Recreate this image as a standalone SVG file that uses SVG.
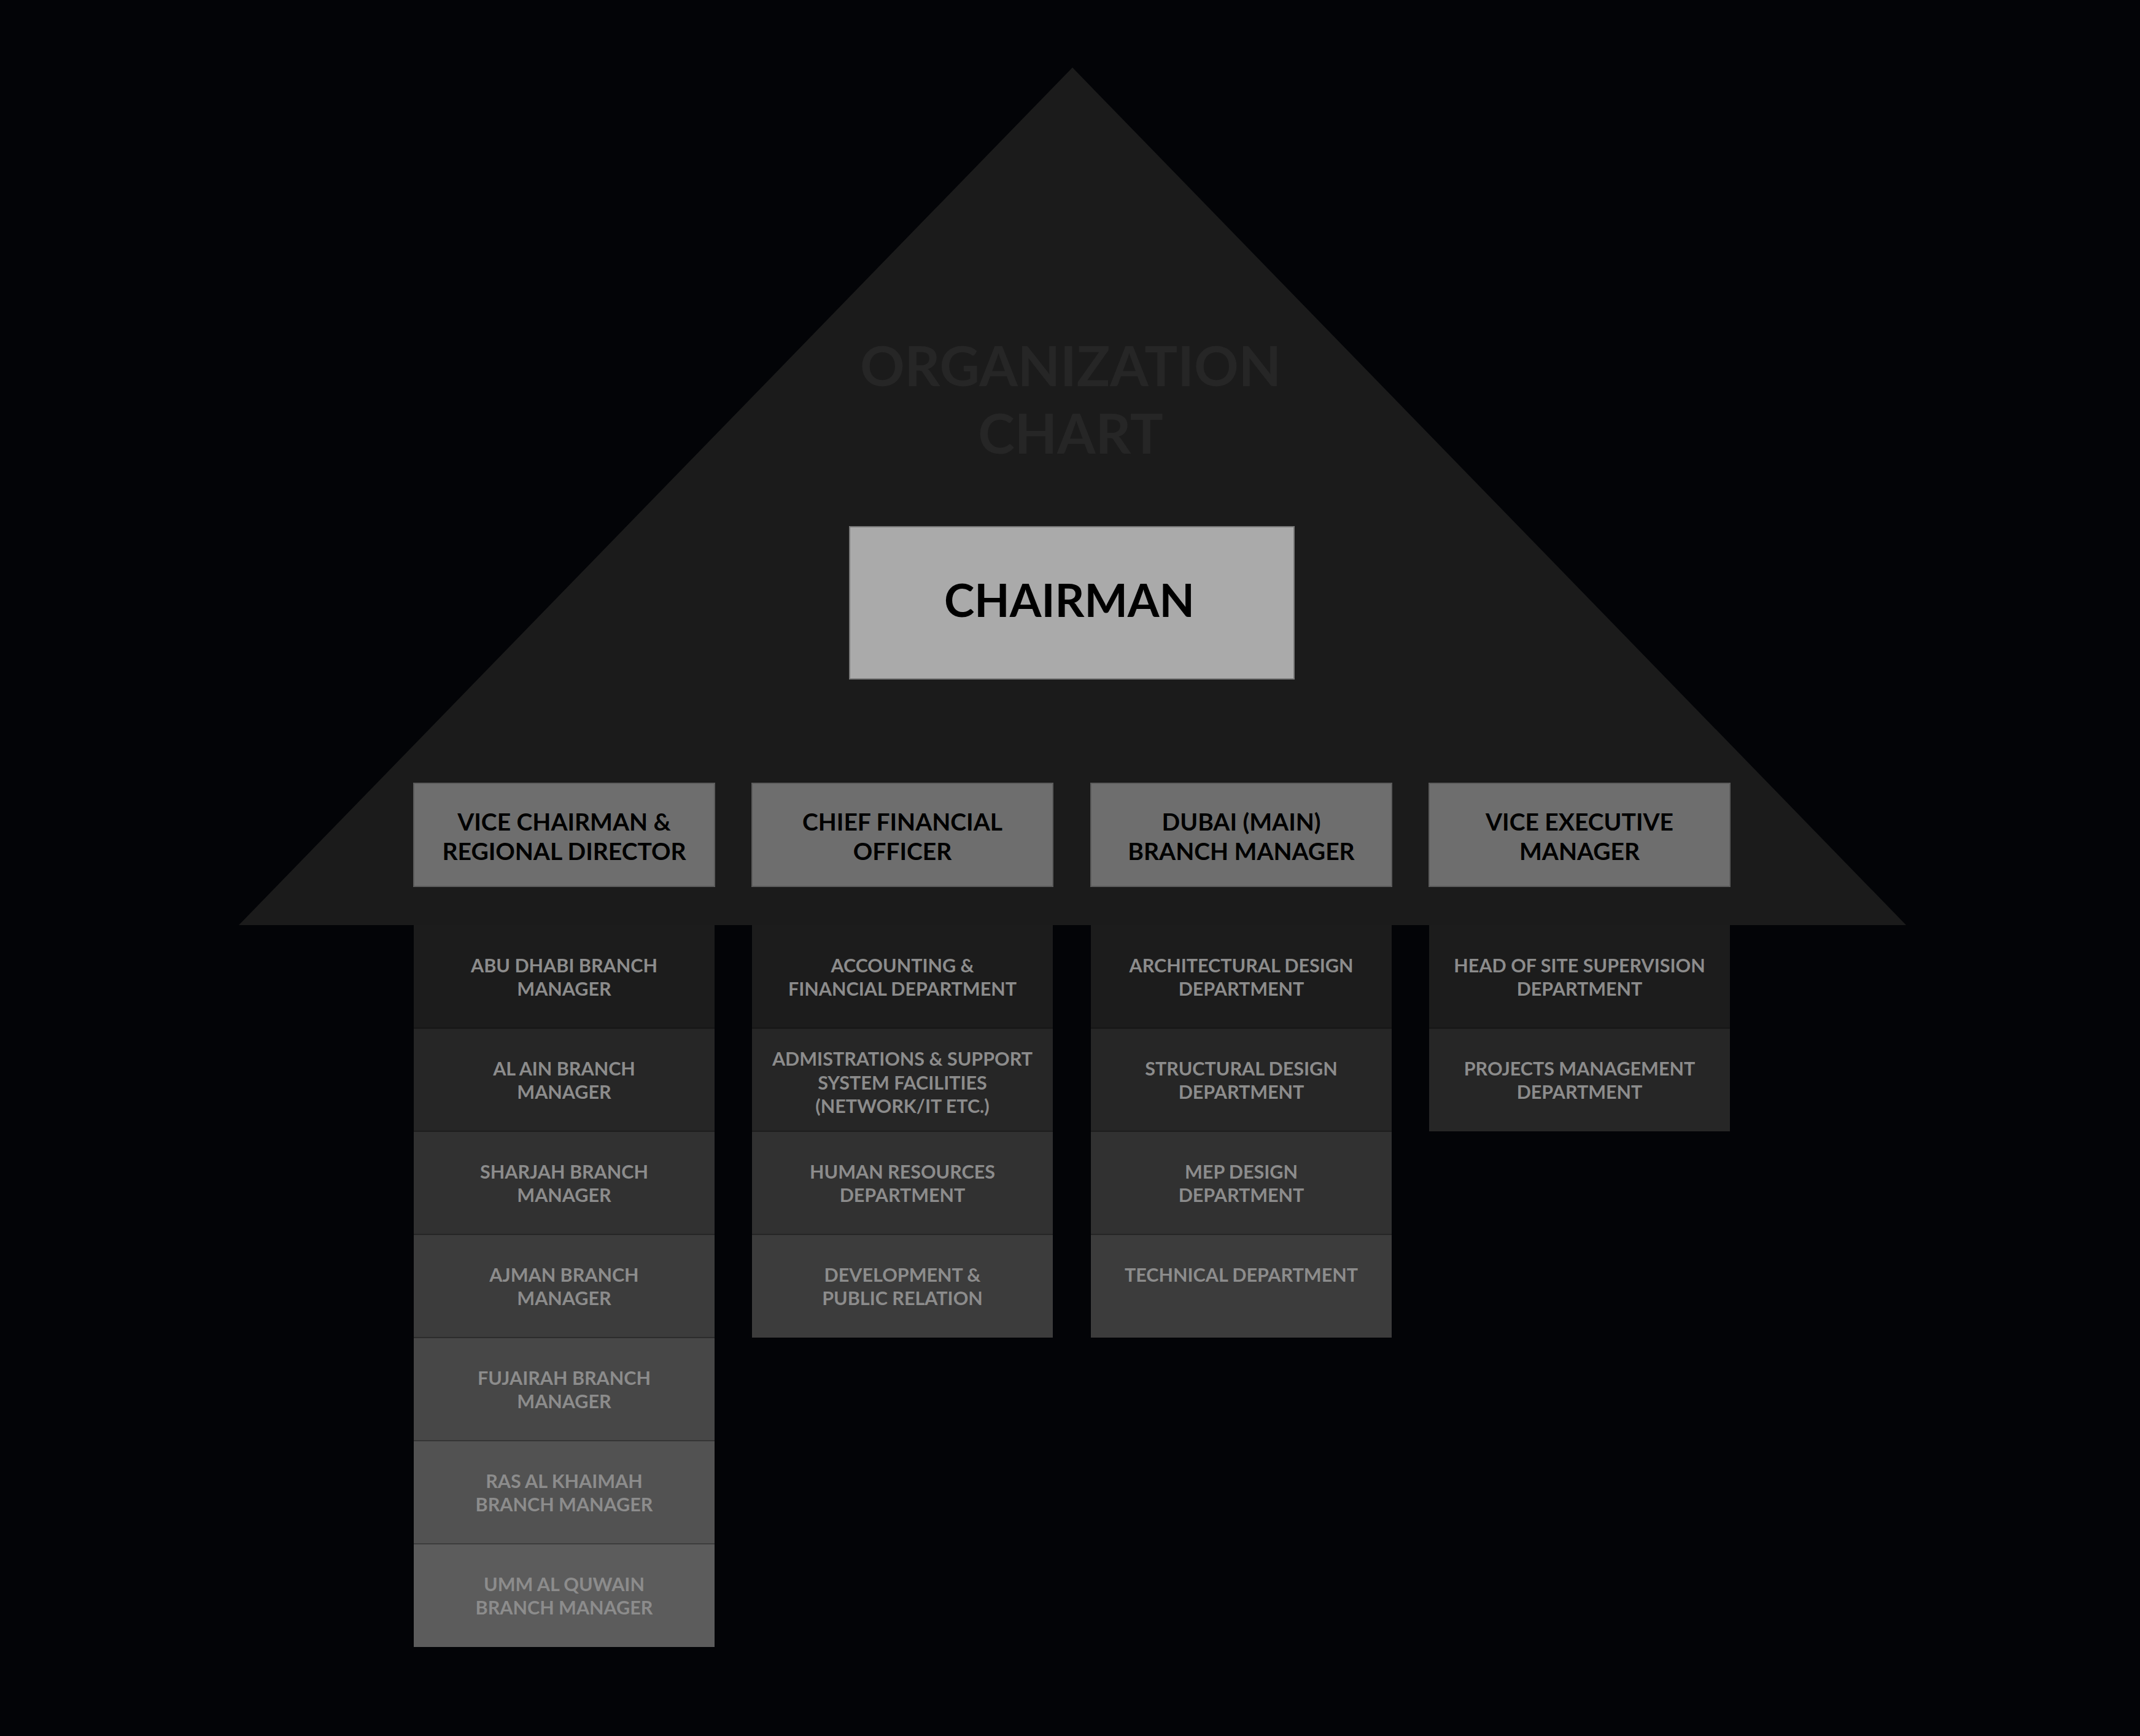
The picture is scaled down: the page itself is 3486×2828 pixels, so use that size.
<svg xmlns="http://www.w3.org/2000/svg" width="3486" height="2828" viewBox="0 0 3486 2828">
<style>
.t{font-family:Lato,"Liberation Sans",sans-serif;font-weight:700;text-anchor:middle}
.sub{font-size:30.5px;fill:#8c8c8c}
.l2{font-size:39px;fill:#000}
.l2box{fill:#6e6e6e;stroke:#5c5c5c;stroke-width:2}
.sep{stroke:#000;stroke-opacity:0.3;stroke-width:2}
</style>
<rect x="0" y="0" width="3486" height="2828" fill="#030407"/>
<polygon points="1747,110 389,1507 3105,1507" fill="#1b1b1b"/>
<text class="t" x="1744" y="629" font-size="90" fill="#262626">ORGANIZATION</text>
<text class="t" x="1744" y="739" font-size="90" fill="#262626">CHART</text>

<g id="chairman">
<rect x="1384" y="858" width="724" height="248" fill="#aaaaaa" stroke="#777" stroke-width="2"/>
<text class="t" x="1742" y="1005" font-size="74.5" fill="#000">CHAIRMAN</text>
</g>

<g id="vice-chairman">
<rect class="l2box" x="674" y="1276" width="490" height="168"/>
<text class="t l2" x="919" y="1353">VICE CHAIRMAN &amp;</text>
<text class="t l2" x="919" y="1401">REGIONAL DIRECTOR</text>
</g>
<g id="cfo">
<rect class="l2box" x="1225" y="1276" width="490" height="168"/>
<text class="t l2" x="1470" y="1353">CHIEF FINANCIAL</text>
<text class="t l2" x="1470" y="1401">OFFICER</text>
</g>
<g id="dubai">
<rect class="l2box" x="1777" y="1276" width="490" height="168"/>
<text class="t l2" x="2022" y="1353">DUBAI (MAIN)</text>
<text class="t l2" x="2022" y="1401">BRANCH MANAGER</text>
</g>
<g id="vice-exec">
<rect class="l2box" x="2328" y="1276" width="490" height="168"/>
<text class="t l2" x="2573" y="1353">VICE EXECUTIVE</text>
<text class="t l2" x="2573" y="1401">MANAGER</text>
</g>

<!-- column 1 -->
<g id="abu-dhabi"><rect x="674" y="1507" width="490" height="168" fill="#1c1c1c"/>
<text class="t sub" x="919" y="1584">ABU DHABI BRANCH</text><text class="t sub" x="919" y="1622">MANAGER</text></g>
<g id="al-ain"><rect x="674" y="1675" width="490" height="168" fill="#262626"/>
<text class="t sub" x="919" y="1752">AL AIN BRANCH</text><text class="t sub" x="919" y="1790">MANAGER</text></g>
<g id="sharjah"><rect x="674" y="1843" width="490" height="168" fill="#313131"/>
<text class="t sub" x="919" y="1920">SHARJAH BRANCH</text><text class="t sub" x="919" y="1958">MANAGER</text></g>
<g id="ajman"><rect x="674" y="2011" width="490" height="168" fill="#3c3c3c"/>
<text class="t sub" x="919" y="2088">AJMAN BRANCH</text><text class="t sub" x="919" y="2126">MANAGER</text></g>
<g id="fujairah"><rect x="674" y="2179" width="490" height="168" fill="#474747"/>
<text class="t sub" x="919" y="2256">FUJAIRAH BRANCH</text><text class="t sub" x="919" y="2294">MANAGER</text></g>
<g id="ras-al-khaimah"><rect x="674" y="2347" width="490" height="168" fill="#525252"/>
<text class="t sub" x="919" y="2424">RAS AL KHAIMAH</text><text class="t sub" x="919" y="2462">BRANCH MANAGER</text></g>
<g id="umm-al-quwain"><rect x="674" y="2515" width="490" height="168" fill="#5c5c5c"/>
<text class="t sub" x="919" y="2592">UMM AL QUWAIN</text><text class="t sub" x="919" y="2630">BRANCH MANAGER</text></g>

<!-- column 2 -->
<g id="accounting"><rect x="1225" y="1507" width="490" height="168" fill="#1c1c1c"/>
<text class="t sub" x="1470" y="1584">ACCOUNTING &amp;</text><text class="t sub" x="1470" y="1622">FINANCIAL DEPARTMENT</text></g>
<g id="administrations"><rect x="1225" y="1675" width="490" height="168" fill="#262626"/>
<text class="t sub" x="1470" y="1736">ADMISTRATIONS &amp; SUPPORT</text><text class="t sub" x="1470" y="1775">SYSTEM FACILITIES</text><text class="t sub" x="1470" y="1813">(NETWORK/IT ETC.)</text></g>
<g id="hr"><rect x="1225" y="1843" width="490" height="168" fill="#313131"/>
<text class="t sub" x="1470" y="1920">HUMAN RESOURCES</text><text class="t sub" x="1470" y="1958">DEPARTMENT</text></g>
<g id="development"><rect x="1225" y="2011" width="490" height="168" fill="#3c3c3c"/>
<text class="t sub" x="1470" y="2088">DEVELOPMENT &amp;</text><text class="t sub" x="1470" y="2126">PUBLIC RELATION</text></g>

<!-- column 3 -->
<g id="architectural"><rect x="1777" y="1507" width="490" height="168" fill="#1c1c1c"/>
<text class="t sub" x="2022" y="1584">ARCHITECTURAL DESIGN</text><text class="t sub" x="2022" y="1622">DEPARTMENT</text></g>
<g id="structural"><rect x="1777" y="1675" width="490" height="168" fill="#262626"/>
<text class="t sub" x="2022" y="1752">STRUCTURAL DESIGN</text><text class="t sub" x="2022" y="1790">DEPARTMENT</text></g>
<g id="mep"><rect x="1777" y="1843" width="490" height="168" fill="#313131"/>
<text class="t sub" x="2022" y="1920">MEP DESIGN</text><text class="t sub" x="2022" y="1958">DEPARTMENT</text></g>
<g id="technical"><rect x="1777" y="2011" width="490" height="168" fill="#3c3c3c"/>
<text class="t sub" x="2022" y="2088">TECHNICAL DEPARTMENT</text></g>

<!-- column 4 -->
<g id="site-supervision"><rect x="2328" y="1507" width="490" height="168" fill="#1c1c1c"/>
<text class="t sub" x="2573" y="1584">HEAD OF SITE SUPERVISION</text><text class="t sub" x="2573" y="1622">DEPARTMENT</text></g>
<g id="projects"><rect x="2328" y="1675" width="490" height="168" fill="#262626"/>
<text class="t sub" x="2573" y="1752">PROJECTS MANAGEMENT</text><text class="t sub" x="2573" y="1790">DEPARTMENT</text></g>

<g id="separators">
<line class="sep" x1="674" y1="1675" x2="1164" y2="1675"/><line class="sep" x1="674" y1="1843" x2="1164" y2="1843"/>
<line class="sep" x1="674" y1="2011" x2="1164" y2="2011"/><line class="sep" x1="674" y1="2179" x2="1164" y2="2179"/>
<line class="sep" x1="674" y1="2347" x2="1164" y2="2347"/><line class="sep" x1="674" y1="2515" x2="1164" y2="2515"/>
<line class="sep" x1="1225" y1="1675" x2="1715" y2="1675"/><line class="sep" x1="1225" y1="1843" x2="1715" y2="1843"/>
<line class="sep" x1="1225" y1="2011" x2="1715" y2="2011"/>
<line class="sep" x1="1777" y1="1675" x2="2267" y2="1675"/><line class="sep" x1="1777" y1="1843" x2="2267" y2="1843"/>
<line class="sep" x1="1777" y1="2011" x2="2267" y2="2011"/>
<line class="sep" x1="2328" y1="1675" x2="2818" y2="1675"/>
</g>
</svg>
